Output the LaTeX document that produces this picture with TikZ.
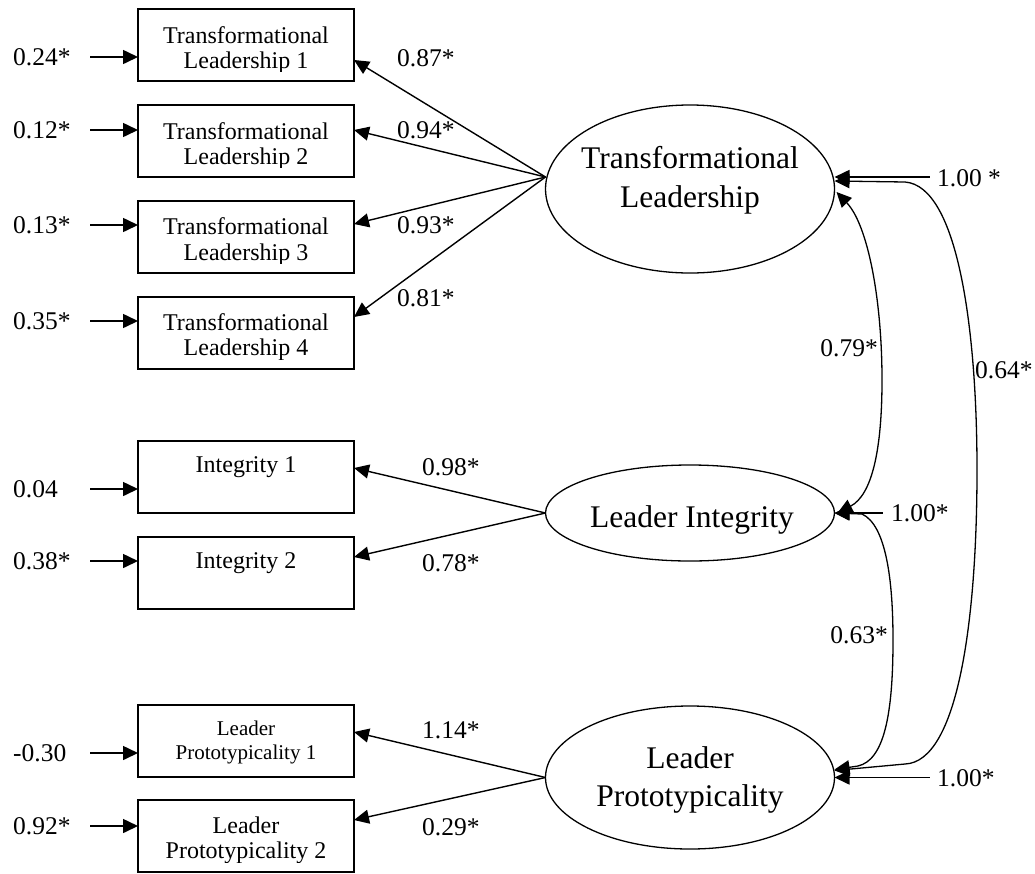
\documentclass[tikz,border=0pt]{standalone}
\usepackage{fontspec}
\setmainfont{Liberation Serif}
\usetikzlibrary{arrows.meta,shapes.geometric}
\begin{document}
\begin{tikzpicture}[x=1pt,y=-1pt,
  obs/.style={draw,line width=1.6pt,minimum width=216pt,minimum height=72pt,inner sep=0pt,outer sep=0pt},
  lat/.style={draw,ellipse,line width=1.3pt,inner sep=0pt,outer sep=0pt,minimum width=289pt},
  boxtxt/.style={anchor=base,inner sep=0pt,font=\fontsize{24}{26}\selectfont},
  smalltxt/.style={anchor=base,inner sep=0pt,font=\fontsize{21}{23}\selectfont},
  lattxt/.style={anchor=base,inner sep=0pt,font=\fontsize{31.5}{36}\selectfont},
  coef/.style={inner sep=0pt,font=\fontsize{25.5}{28}\selectfont},
  head/.style={Triangle[length=15pt,width=14pt]},
  err/.style={line width=1.6pt,-{Triangle[length=15pt,width=14pt]}},
  load/.style={line width=1.4pt,-{Triangle[length=15pt,width=14pt]}},
  both/.style={line width=1.3pt,{Triangle[length=15pt,width=14pt]}-{Triangle[length=15pt,width=14pt]}}
]
\useasboundingbox (0,0) rectangle (1035,873);

% observed indicators
\node[obs] (b1) at (246,45) {};
\node[obs] (b2) at (246,141) {};
\node[obs] (b3) at (246,237) {};
\node[obs] (b4) at (246,333) {};
\node[obs] (i1) at (246,477) {};
\node[obs] (i2) at (246,573) {};
\node[obs] (p1) at (246,741) {};
\node[obs] (p2) at (246,836) {};

% indicator labels, cut off above the lower inner margin of each box
\begin{scope}
  \clip (b1.north west) rectangle ([yshift=10pt]b1.south east);
  \node[boxtxt] (b1a) at (246,43) {Transformational};
  \node[boxtxt] (b1b) at (246,68) {Leadership 1};
\end{scope}
\begin{scope}
  \clip (b2.north west) rectangle ([yshift=10pt]b2.south east);
  \node[boxtxt] (b2a) at (246,139) {Transformational};
  \node[boxtxt] (b2b) at (246,164) {Leadership 2};
\end{scope}
\begin{scope}
  \clip (b3.north west) rectangle ([yshift=10pt]b3.south east);
  \node[boxtxt] (b3a) at (246,234) {Transformational};
  \node[boxtxt] (b3b) at (246,260) {Leadership 3};
\end{scope}
\begin{scope}
  \clip (b4.north west) rectangle ([yshift=10pt]b4.south east);
  \node[boxtxt] (b4a) at (246,330) {Transformational};
  \node[boxtxt] (b4b) at (246,355) {Leadership 4};
\end{scope}
\node[boxtxt] (i1a) at (246,472) {Integrity 1};
\node[boxtxt] (i2a) at (246,568) {Integrity 2};
\node[smalltxt] (p1a) at (246,735) {Leader};
\node[smalltxt] (p1b) at (246,759) {Prototypicality 1};
\begin{scope}
  \clip (p2.north west) rectangle ([yshift=10pt]p2.south east);
  \node[boxtxt] (p2a) at (246,833) {Leader};
  \node[boxtxt] (p2b) at (246,858) {Prototypicality 2};
\end{scope}

% latent factors
\node[lat,minimum height=168pt] (TL) at (690,189) {};
\node[lat,minimum height=96pt] (LI) at (690,513) {};
\node[lat,minimum height=143pt] (LP) at (690,777.5) {};
\node[lattxt] (TLa) at (690,168) {Transformational};
\node[lattxt] (TLb) at (690,207) {Leadership};
\node[lattxt] (LIa) at (692,527) {Leader Integrity};
\node[lattxt] (LPa) at (690,768) {Leader};
\node[lattxt] (LPb) at (690,806) {Prototypicality};

% error terms
\draw[err] ([xshift=-48pt,yshift=-12pt]b1.west) -- ([yshift=-12pt]b1.west);
\draw[err] ([xshift=-48pt,yshift=11pt]b2.west) -- ([yshift=11pt]b2.west);
\draw[err] ([xshift=-48pt,yshift=12pt]b3.west) -- ([yshift=12pt]b3.west);
\draw[err] ([xshift=-48pt,yshift=12pt]b4.west) -- ([yshift=12pt]b4.west);
\draw[err] ([xshift=-48pt,yshift=-12pt]i1.west) -- ([yshift=-12pt]i1.west);
\draw[err] ([xshift=-48pt,yshift=12pt]i2.west) -- ([yshift=12pt]i2.west);
\draw[err] ([xshift=-48pt,yshift=-12pt]p1.west) -- ([yshift=-12pt]p1.west);
\draw[err] ([xshift=-48pt,yshift=10pt]p2.west) -- ([yshift=10pt]p2.west);
\node[coef,anchor=west] (e1) at (13,57) {0.24*};
\node[coef,anchor=west] (e2) at (13,130) {0.12*};
\node[coef,anchor=west] (e3) at (13,225) {0.13*};
\node[coef,anchor=west] (e4) at (13,321) {0.35*};
\node[coef,anchor=west] (e5) at (13,489) {0.04};
\node[coef,anchor=west] (e6) at (13,561) {0.38*};
\node[coef,anchor=west] (e7) at (13,753) {-0.30};
\node[coef,anchor=west] (e8) at (13,826) {0.92*};

% factor loadings
\draw[load] ([yshift=12pt]TL.west) -- ([yshift=-15pt]b1.east);
\draw[load] ([yshift=12pt]TL.west) -- ([yshift=11pt]b2.east);
\draw[load] ([yshift=12pt]TL.west) -- ([yshift=13pt]b3.east);
\draw[load] ([yshift=12pt]TL.west) -- ([yshift=16pt]b4.east);
\draw[load] (LI.west) -- ([yshift=9pt]i1.east);
\draw[load] (LI.west) -- ([yshift=16pt]i2.east);
\draw[load] (LP.west) -- ([yshift=9pt]p1.east);
\draw[load] (LP.west) -- ([yshift=16pt]p2.east);
\node[coef,anchor=west] (l1) at (397,58) {0.87*};
\node[coef,anchor=west] (l2) at (397,130) {0.94*};
\node[coef,anchor=west] (l3) at (397,225) {0.93*};
\node[coef,anchor=west] (l4) at (397,298) {0.81*};
\node[coef,anchor=west] (l5) at (422,467) {0.98*};
\node[coef,anchor=west] (l6) at (422,563) {0.78*};
\node[coef,anchor=west] (l7) at (422,730) {1.14*};
\node[coef,anchor=west] (l8) at (422,827) {0.29*};

% factor variances
\draw[err] ([xshift=95pt,yshift=12pt]TL.east) -- ([yshift=12pt]TL.east);
\draw[err] ([xshift=48pt]LI.east) -- (LI.east);
\draw[err] ([xshift=95pt]LP.east) -- (LP.east);
\node[coef,anchor=west] (v1) at (937,178) {1.00 *};
\node[coef,anchor=west] (v2) at (891,513) {1.00*};
\node[coef,anchor=west] (v3) at (937,778) {1.00*};

% factor covariances
\draw[both] ([xshift=2pt,yshift=-3pt]TL.east) .. controls (868,225) and (882,300) .. (882,380)
  .. controls (882,450) and (872,495) .. ([xshift=3pt]LI.east);
\draw[both] (LI.east) -- (862,514) .. controls (886,525) and (893,580) .. (893,640)
  .. controls (893,715) and (884,760) .. (858,766) -- ([yshift=8pt]LP.east);
\draw[both] ([yshift=8pt]TL.east) -- (905,182) .. controls (958,186) and (977,330) .. (977,470)
  .. controls (977,620) and (958,762) .. (905,764) -- ([yshift=7pt]LP.east);
\node[coef,anchor=east] (c1) at (878,348) {0.79*};
\node[coef,anchor=east] (c2) at (888,635) {0.63*};
\node[coef,anchor=west] (c3) at (975,370) {0.64*};
\end{tikzpicture}
\end{document}
